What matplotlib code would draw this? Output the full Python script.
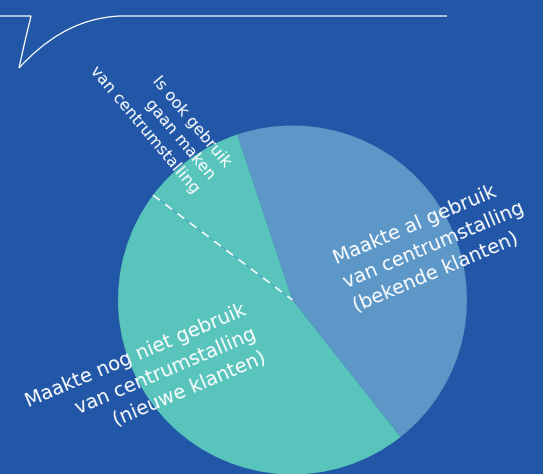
import numpy as np
import matplotlib
matplotlib.use('Agg')
import matplotlib.pyplot as plt
from matplotlib.path import Path
from matplotlib.patches import PathPatch

W, H = 543, 474

labels = ['Maakte al gebruik\nvan centrumstalling\n(bekende klanten)',
          'Is ook gebruik\ngaan maken\nvan centrumstalling',
          'Maakte nog niet gebruik\nvan centrumstalling\n(nieuwe klanten)']
shares = [44.5, 9.6, 45.9]

bg = '#2257a7'
colors = ['#5c97c7', '#58c4bc', '#58c4bc']

plt.rcParams['font.family'] = ['DejaVu Sans']


def px(x, y):
    # picture coords (origin top-left) -> data coords
    return x, H - y


fig = plt.figure(figsize=(W / 100, H / 100), dpi=100, facecolor=bg)
ax = fig.add_axes([0, 0, 1, 1])
ax.set_facecolor(bg)

cx, cy = px(292.5, 300)
r = 174.5
wedges, _ = ax.pie(shares, colors=colors, startangle=-51.7, counterclock=True,
                   center=(cx, cy), radius=r, wedgeprops=dict(linewidth=0))

# dashed split inside the teal part
th = np.deg2rad(wedges[1].theta2)
lx = [cx + r * np.cos(th), cx]
ly = [cy + r * np.sin(th), cy]
ax.plot(lx, ly, color='#4c9fc2', lw=0.5, zorder=3)
ax.plot(lx, ly, color='white', lw=1.1, ls=(0, (5.6, 4.4)), zorder=4)

# labels
tkw = dict(color='white', rotation_mode='anchor', va='center',
           linespacing=1.45, zorder=5)
ax.text(*px(344, 283), labels[0], rotation=23, ha='left', multialignment='left',
        fontsize=14, **tkw)
ax.text(*px(212, 178), labels[1], rotation=-50, ha='right', multialignment='right',
        fontsize=11.5, **tkw)
ax.text(*px(255, 333), labels[2], rotation=23, ha='right', multialignment='right',
        fontsize=14, **tkw)

# speech bubble outline at the top
verts = [px(0, 16), px(31, 16),
         px(25, 40), px(19, 68),
         px(43, 42), px(75, 18), px(120, 16),
         px(447, 16)]
codes = [Path.MOVETO, Path.LINETO,
         Path.CURVE3, Path.CURVE3,
         Path.CURVE4, Path.CURVE4, Path.CURVE4,
         Path.LINETO]
ax.add_patch(PathPatch(Path(verts, codes), fill=False, edgecolor='white', lw=0.9, zorder=5))

ax.set_xlim(0, W)
ax.set_ylim(0, H)
ax.set_aspect('auto')
ax.axis('off')

fig.savefig('out.png', dpi=100, facecolor=bg)
